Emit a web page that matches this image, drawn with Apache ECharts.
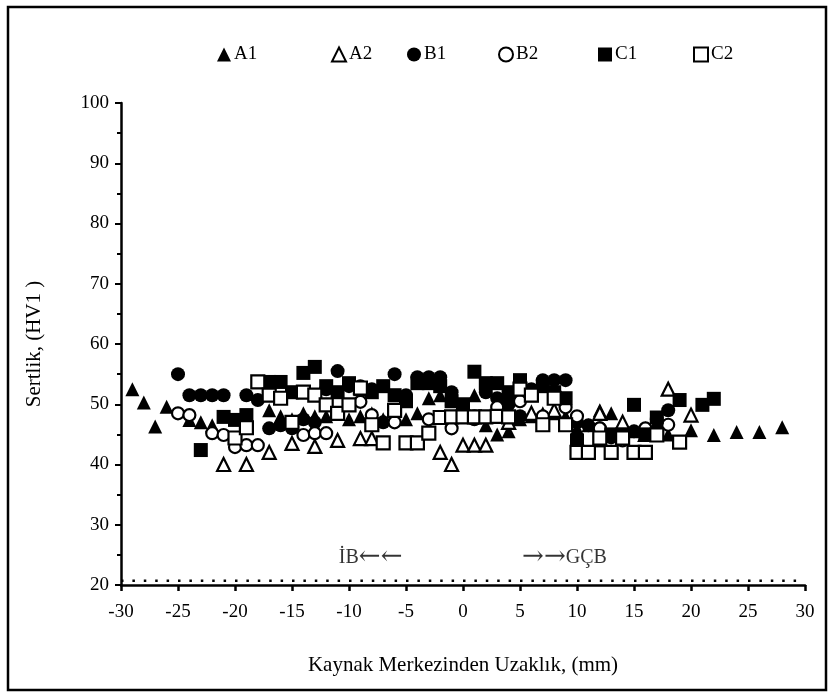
<!DOCTYPE html>
<html><head><meta charset="utf-8">
<script src="https://cdn.jsdelivr.net/npm/echarts@6/dist/echarts.min.js"></script>
<style>html,body{margin:0;padding:0;background:#fff}#c{width:834px;height:698px}</style>
</head><body><div id="c"></div>
<script>
var xTicks = [-30,-25,-20,-15,-10,-5,0,5,10,15,20,25,30];
var yTicks = [20,30,40,50,60,70,80,90,100];
var seriesNames = ['A1','A2','B1','B2','C1','C2'];
var A1 = [[-29,52.5],[-28,50.3],[-27,46.3],[-26,49.6],[-24,47.4],[-23,47],[-22,46.5],[-17,49],[-16,48],[-15,47.5],[-14,48.5],[-13,48],[-12,48],[-11,48.5],[-10,47.5],[-9,48],[-8,48.5],[-7,47.5],[-6,48],[-5,47.5],[-4,48.5],[-3,51],[-2,51.5],[-1,51],[1,51.5],[2,46.5],[3,45],[4,45.5],[5,47.5],[6,48],[7,48.5],[8,48.5],[9,48],[10,46],[11,46.5],[12,49],[13,48.5],[14,47],[15,45.5],[16,46],[17,47],[18,45],[20,45.7],[22,44.9],[24,45.4],[26,45.4],[28,46.2]];
var A2 = [[-21,40],[-19,40],[-17,42],[-15,43.5],[-13,43],[-11,44],[-9,44.3],[-8,44.3],[-6,48],[-2,42],[-1,40],[0,43.2],[1,43.2],[2,43.2],[4,47],[6,48.5],[8,49],[12,48.5],[14,47],[16,45],[18,52.5],[20,48.2]];
var B1 = [[-25,55],[-24,51.5],[-23,51.5],[-22,51.5],[-21,51.5],[-19,51.5],[-18,50.7],[-17,46],[-16,46.5],[-15,46],[-14,47.5],[-13,47],[-12,52.5],[-11,55.5],[-10,53],[-9,53],[-8,52.5],[-7,47],[-6,55],[-5,51.5],[-4,54.5],[-3,54.5],[-2,54.5],[-1,52],[0,49],[1,47.5],[2,52],[3,51],[4,50],[5,48],[6,52.5],[7,54],[8,54],[9,54],[10,47],[11,46.5],[12,46],[13,44.5],[15,45.5],[17,47.5],[18,49]];
var B2 = [[-25,48.5],[-24,48.2],[-22,45.2],[-21,44.9],[-20,42.9],[-19,43.2],[-18,43.2],[-14,44.9],[-13,45.2],[-12,45.2],[-9,50.4],[-8,48.2],[-6,47],[-3,47.5],[-1,46],[1,48],[3,49.5],[5,50.5],[7,48],[9,49.5],[10,48],[12,46],[14,44],[16,46],[18,46.6]];
var C1 = [[-23,42.4],[-21,47.9],[-20,47.4],[-19,48.2],[-17,53.7],[-16,53.7],[-15,52],[-14,55.2],[-13,56.2],[-12,53],[-11,52],[-10,53.5],[-9,52.5],[-8,52],[-7,53],[-6,51.5],[-5,50.5],[-4,53.5],[-3,53.5],[-2,53],[-1,50.5],[0,50],[1,55.4],[2,53.5],[3,53.5],[4,52],[5,54],[6,51.5],[7,53],[8,52],[9,51],[10,44],[11,42],[12,44],[13,45],[14,45],[15,49.9],[16,45],[17,47.8],[19,50.7],[21,49.9],[22,50.9]];
var C2 = [[-20,44.4],[-19,46.1],[-18,53.7],[-17,51.5],[-16,51],[-15,47],[-14,52],[-13,51.5],[-12,49.9],[-11,48.5],[-10,49.9],[-9,52.7],[-8,46.6],[-7,43.6],[-6,49],[-5,43.6],[-4,43.6],[-3,45.2],[-2,47.8],[-1,47.9],[0,47.9],[1,47.9],[2,47.9],[3,48],[4,47.9],[5,52.5],[6,51.5],[7,46.6],[8,51],[9,46.6],[10,42],[11,42],[12,44.4],[13,42],[14,44.4],[15,42],[16,42],[17,44.9],[19,43.7]];
var baseLine = [[-30,20.7],[30,20.7]];
var annotations = [[-8.1,24.6,'{t|İB}{a|←←}'],[8.9,24.6,'{a|→→}{t|GÇB}']];

var font = 'Liberation Serif';
var styles = {
  A1:{symbol:'triangle',size:14,fill:'#000'},
  A2:{symbol:'triangle',size:13,fill:'#fff'},
  B1:{symbol:'circle',size:14,fill:'#000'},
  B2:{symbol:'circle',size:12,fill:'#fff'},
  C1:{symbol:'rect',size:14,fill:'#000'},
  C2:{symbol:'rect',size:13,fill:'#fff'}
};
var dataMap = {A1:A1,A2:A2,B1:B1,B2:B2,C1:C1,C2:C2};
var legendLeft = [212,326,402,493,593,688];

var chart = echarts.init(document.getElementById('c'), null, {renderer:'canvas'});
var series = seriesNames.map(function(n){
  var s = styles[n];
  return {name:n,type:'scatter',data:dataMap[n],symbol:s.symbol,symbolSize:s.size,
    itemStyle:{color:s.fill,borderColor:'#000',borderWidth:s.fill==='#fff'?2.2:0,opacity:1},
    emphasis:{disabled:true},z:3};
});
series.push({name:'base',type:'line',data:baseLine,symbol:'none',
  lineStyle:{color:'#000',width:2.5,type:[2.5,8.9],dashOffset:0},z:2,silent:true});
series.push({name:'ann',type:'scatter',symbolSize:0,silent:true,
  data:annotations.map(function(a){return {value:[a[0],a[1]],label:{formatter:a[2]}};}),
  label:{show:true,position:'inside',color:'#000',fontFamily:font,
    rich:{t:{fontFamily:font,fontSize:20,color:'#000'},a:{fontFamily:'DejaVu Serif',fontSize:26,color:'#000'}}}});

var legends = seriesNames.map(function(n,i){
  return {data:[n],left:legendLeft[i],top:40,itemWidth:14,itemHeight:14,itemGap:4,
    textStyle:{fontFamily:font,fontSize:19,color:'#000',padding:[0,0,0,-2]},selectedMode:false};
});

chart.setOption({
  backgroundColor:'#fff',
  animation:false,
  textStyle:{fontFamily:font},
  legend:legends,
  grid:{left:121,right:29,top:103,bottom:113},
  xAxis:{type:'value',min:-30,max:30,interval:5,
    name:'Kaynak Merkezinden Uzaklık, (mm)',nameLocation:'middle',nameGap:70,
    nameTextStyle:{fontFamily:font,fontSize:21,color:'#000'},
    axisLine:{onZero:false,lineStyle:{color:'#000',width:2.5}},
    axisTick:{show:true,inside:false,length:6,lineStyle:{color:'#000',width:2.5}},
    axisLabel:{fontFamily:font,fontSize:19,color:'#000',margin:18,
      formatter:function(v){return xTicks.indexOf(v)>=0?String(v):'';}},
    splitLine:{show:false}},
  yAxis:{type:'value',min:20,max:100,interval:10,
    name:'Sertlik, (HV1 )',nameLocation:'middle',nameGap:76,
    nameTextStyle:{fontFamily:font,fontSize:21,color:'#000'},
    axisLine:{show:true,onZero:false,lineStyle:{color:'#000',width:2.5}},
    axisTick:{show:true,inside:false,length:6,lineStyle:{color:'#000',width:2}},
    minorTick:{show:true,splitNumber:2,length:4,lineStyle:{color:'#000',width:2}},
    axisLabel:{fontFamily:font,fontSize:19,color:'#000',margin:12,
      formatter:function(v){return yTicks.indexOf(v)>=0?String(v):'';}},
    splitLine:{show:false}},
  graphic:[{type:'rect',shape:{x:8,y:7,width:818,height:683},
    style:{fill:null,stroke:'#000',lineWidth:2.5},silent:true,z:0}],
  series:series
});
</script></body></html>
